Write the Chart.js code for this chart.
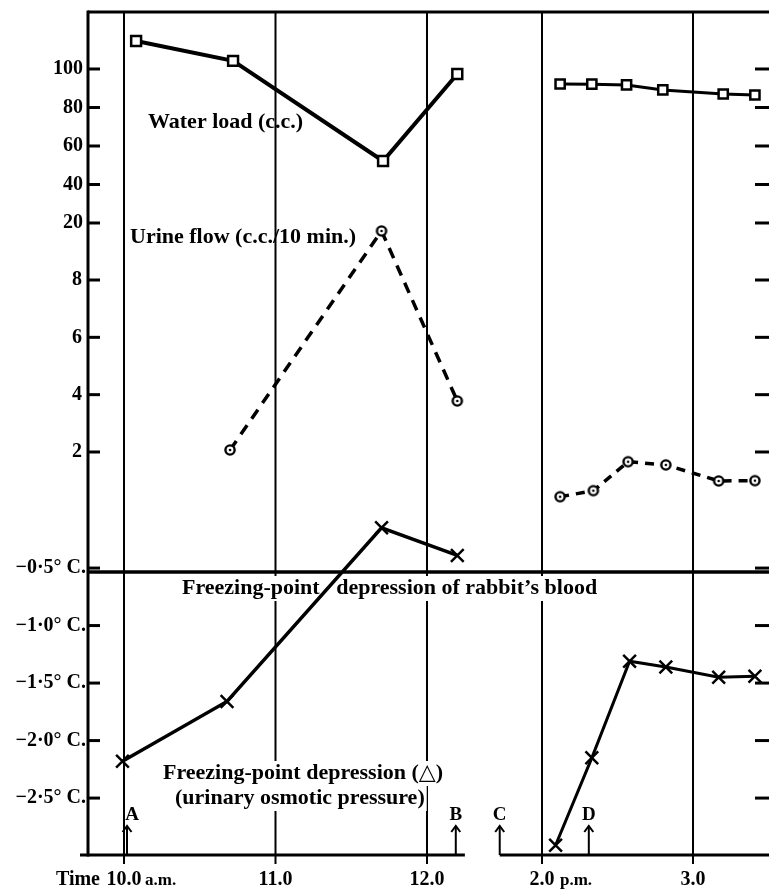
<!DOCTYPE html>
<html>
<head>
<meta charset="utf-8">
<script src="https://cdn.jsdelivr.net/npm/chart.js@4.4.1/dist/chart.umd.min.js"></script>
<style>
  html, body { margin: 0; padding: 0; background: #fff; overflow: hidden; }
  #wrap { width: 769px; height: 892px; position: relative; }
  canvas { display: block; }
</style>
</head>
<body>
<div id="wrap"><canvas id="grafica"></canvas></div>
<script>
// ===============================
// DATOS
// tiempo en horas: 10.0 a.m. = 10, 2.0 p.m. = 14
// ===============================
const tiempoAguaAM = [10.08, 10.72, 11.71, 12.2];
const aguaAM = [114.5, 104.2, 52.2, 97.4];
const tiempoAguaPM = [14.12, 14.33, 14.56, 14.8, 15.2, 15.41];
const aguaPM = [92.2, 92.1, 91.7, 89.1, 87.0, 86.5];

const tiempoOrinaAM = [10.7, 11.7, 12.2];
const orinaAM = [2.07, 9.71, 3.78];
const tiempoOrinaPM = [14.12, 14.34, 14.57, 14.82, 15.17, 15.41];
const orinaPM = [0.44, 0.65, 1.66, 1.55, 0.99, 1.0];

const tiempoDeltaAM = [9.99, 10.68, 11.7, 12.2];
const deltaAM = [-2.18, -1.66, -0.15, -0.39];
const tiempoDeltaPM = [14.09, 14.33, 14.58, 14.82, 15.17, 15.41];
const deltaPM = [-2.91, -2.15, -1.31, -1.36, -1.45, -1.44];

// punto de congelacion de la sangre del conejo
const deltaSangre = -0.535;

// ===============================
// EJES
// ===============================
const ticksAgua = [20, 40, 60, 80, 100];
const ticksOrina = [2, 4, 6, 8];
const ticksDelta = [-0.5, -1.0, -1.5, -2.0, -2.5];
const etiquetasDelta = ["−0·5° C.", "−1·0° C.", "−1·5° C.", "−2·0° C.", "−2·5° C."];
const horasAM = [10, 11, 12];
const etiquetasAM = ["10.0", "11.0", "12.0"];
const horasPM = [14, 15];
const etiquetasPM = ["2.0", "3.0"];

const marcas = ["A", "B", "C", "D"];
const tiempoMarcas = [10.02, 12.19, 13.72, 14.31];
const ejeMarcas = ["xA", "xA", "xP", "xP"];

const serif = '"Liberation Serif", "DejaVu Serif", serif';

function puntos(xs, ys) {
  return xs.map((x, i) => ({ x: x, y: ys[i] }));
}

function crearCirculo() {
  const c = document.createElement("canvas");
  c.width = 14;
  c.height = 14;
  const g = c.getContext("2d");
  g.fillStyle = "#fff";
  g.strokeStyle = "#000";
  g.lineWidth = 2.4;
  g.beginPath();
  g.arc(7, 7, 4.6, 0, Math.PI * 2);
  g.fill();
  g.stroke();
  g.fillStyle = "#000";
  g.beginPath();
  g.arc(7, 7, 1.3, 0, Math.PI * 2);
  g.fill();
  return c;
}

function linea(ctx, x1, y1, x2, y2) {
  ctx.beginPath();
  ctx.moveTo(x1, y1);
  ctx.lineTo(x2, y2);
  ctx.stroke();
}

function texto(ctx, t, x, y, fondo) {
  if (fondo) {
    const w = ctx.measureText(t).width;
    ctx.save();
    ctx.fillStyle = "#fff";
    ctx.fillRect(x - 2, y - 12, w + 4, 25);
    ctx.restore();
  }
  ctx.fillText(t, x, y);
}

// ===============================
// DIBUJO DEL MARCO Y TEXTOS
// ===============================
const dibujoFigura = {
  id: "dibujoFigura",
  beforeDatasetsDraw(chart) {
    const ctx = chart.ctx;
    const a = chart.chartArea;
    const s = chart.scales;
    ctx.save();
    ctx.strokeStyle = "#000";
    ctx.fillStyle = "#000";

    // lineas verticales de cada hora
    ctx.lineWidth = 2;
    horasAM.forEach(h => {
      const x = s.xA.getPixelForValue(h);
      linea(ctx, x, a.top, x, a.bottom + 9);
    });
    horasPM.forEach(h => {
      const x = s.xP.getPixelForValue(h);
      linea(ctx, x, a.top, x, a.bottom + 9);
    });

    // marco
    ctx.lineWidth = 3;
    linea(ctx, a.left, a.top, a.right, a.top);
    linea(ctx, a.left, a.top - 1.5, a.left, a.bottom + 1.5);

    // eje de tiempo cortado entre 12.0 y 2.0
    const finAM = s.xA.getPixelForValue(12.25);
    const inicioPM = s.xP.getPixelForValue(tiempoMarcas[2]);
    linea(ctx, a.left - 8, a.bottom, finAM, a.bottom);
    linea(ctx, inicioPM, a.bottom, a.right, a.bottom);

    // sangre
    ctx.lineWidth = 3.5;
    const yS = s.yT.getPixelForValue(deltaSangre);
    linea(ctx, a.left, yS, a.right, yS);

    // marcas de los ejes y (izquierda y derecha)
    ctx.lineWidth = 3;
    const yTicks = []
      .concat(ticksAgua.map(v => s.yW.getPixelForValue(v)))
      .concat(ticksOrina.map(v => s.yU.getPixelForValue(v)))
      .concat(ticksDelta.map(v => s.yT.getPixelForValue(v)));
    yTicks.forEach(y => {
      linea(ctx, a.left, y, a.left + 12, y);
      linea(ctx, a.right - 14, y, a.right, y);
    });

    ctx.font = "bold 20px " + serif;
    ctx.textAlign = "right";
    ctx.textBaseline = "middle";
    ticksAgua.forEach(v => ctx.fillText(String(v), a.left - 5, s.yW.getPixelForValue(v)));
    ticksOrina.forEach(v => ctx.fillText(String(v), a.left - 6, s.yU.getPixelForValue(v)));
    ticksDelta.forEach((v, i) => ctx.fillText(etiquetasDelta[i], a.left - 2, s.yT.getPixelForValue(v)));

    // etiquetas de tiempo
    const yHora = a.bottom + 25;
    ctx.font = "bold 20px " + serif;
    ctx.textAlign = "center";
    horasAM.forEach((h, i) => ctx.fillText(etiquetasAM[i], s.xA.getPixelForValue(h), yHora));
    horasPM.forEach((h, i) => ctx.fillText(etiquetasPM[i], s.xP.getPixelForValue(h), yHora));
    const x10 = s.xA.getPixelForValue(horasAM[0]);
    const x2 = s.xP.getPixelForValue(horasPM[0]);
    ctx.textAlign = "right";
    ctx.fillText("Time", x10 - 24, yHora);
    ctx.textAlign = "left";
    ctx.font = "bold 17px " + serif;
    ctx.fillText("a.m.", x10 + 21, yHora + 1);
    ctx.fillText("p.m.", x2 + 18, yHora + 1);

    // flechas A B C D
    ctx.lineWidth = 2;
    ctx.font = "bold 19px " + serif;
    ctx.textAlign = "center";
    marcas.forEach((m, i) => {
      const x = s[ejeMarcas[i]].getPixelForValue(tiempoMarcas[i]);
      const punta = a.bottom - 29;
      linea(ctx, x, a.bottom, x, punta);
      ctx.beginPath();
      ctx.moveTo(x - 4.5, punta + 6);
      ctx.lineTo(x, punta);
      ctx.lineTo(x + 4.5, punta + 6);
      ctx.stroke();
      ctx.fillText(m, x + (i === 0 ? 5 : 0), punta - 11);
    });

    // rotulos de las curvas
    ctx.textAlign = "left";
    ctx.font = "bold 22px " + serif;
    texto(ctx, "Water load (c.c.)", 148, 122, false);
    texto(ctx, "Urine flow (c.c./10 min.)", 130, 237, false);
    texto(ctx, "Freezing-point   depression of rabbit’s blood", 182, 588, true);
    texto(ctx, "Freezing-point depression (△)", 163, 773, true);
    texto(ctx, "(urinary osmotic pressure)", 175, 798, true);

    ctx.restore();
  }
};

// ===============================
// GRAFICA
// ===============================
const circulo = crearCirculo();

function renderGrafica() {
  const ctx = document.getElementById("grafica").getContext("2d");

  window.chart = new Chart(ctx, {
    type: "line",
    data: {
      datasets: [
        {
          label: "Water load (c.c.)",
          data: puntos(tiempoAguaAM, aguaAM),
          xAxisID: "xA", yAxisID: "yW",
          borderColor: "#000", borderWidth: 4,
          pointStyle: "rect", pointRadius: 7,
          pointBackgroundColor: "#fff", pointBorderColor: "#000", pointBorderWidth: 2.5
        },
        {
          label: "Water load PM",
          data: puntos(tiempoAguaPM, aguaPM),
          xAxisID: "xP", yAxisID: "yW",
          borderColor: "#000", borderWidth: 3,
          pointStyle: "rect", pointRadius: 6.5,
          pointBackgroundColor: "#fff", pointBorderColor: "#000", pointBorderWidth: 2.5
        },
        {
          label: "Urine flow (c.c./10 min.)",
          data: puntos(tiempoOrinaAM, orinaAM),
          xAxisID: "xA", yAxisID: "yU",
          borderColor: "#000", borderWidth: 3.5, borderDash: [11, 8],
          pointStyle: circulo
        },
        {
          label: "Urine flow PM",
          data: puntos(tiempoOrinaPM, orinaPM),
          xAxisID: "xP", yAxisID: "yU",
          borderColor: "#000", borderWidth: 3.5, borderDash: [9, 7],
          pointStyle: circulo
        },
        {
          label: "Freezing-point depression",
          data: puntos(tiempoDeltaAM, deltaAM),
          xAxisID: "xA", yAxisID: "yT",
          borderColor: "#000", borderWidth: 3.5,
          pointStyle: "crossRot", pointRadius: 9,
          pointBorderColor: "#000", pointBorderWidth: 2.5
        },
        {
          label: "Freezing-point depression PM",
          data: puntos(tiempoDeltaPM, deltaPM),
          xAxisID: "xP", yAxisID: "yT",
          borderColor: "#000", borderWidth: 3,
          pointStyle: "crossRot", pointRadius: 9,
          pointBorderColor: "#000", pointBorderWidth: 2.5
        }
      ]
    },
    options: {
      responsive: true,
      maintainAspectRatio: false,
      animation: false,
      layout: { autoPadding: false, padding: { left: 88, right: 0, top: 12, bottom: 37 } },
      plugins: { legend: { display: false }, tooltip: { enabled: false } },
      elements: { line: { tension: 0 } },
      scales: {
        xA: { type: "linear", display: false, min: 9.7624, max: 14.2574 },
        xP: { type: "linear", display: false, min: 10.9934, max: 15.5033 },
        yW: { type: "linear", display: false, min: -308.3, max: 129.6 },
        yU: { type: "linear", display: false, min: -12.06, max: 17.35 },
        yT: { type: "linear", display: false, min: -2.995, max: 4.335 }
      }
    },
    plugins: [dibujoFigura]
  });
}

window.onload = () => {
  renderGrafica();
};
</script>
</body>
</html>
